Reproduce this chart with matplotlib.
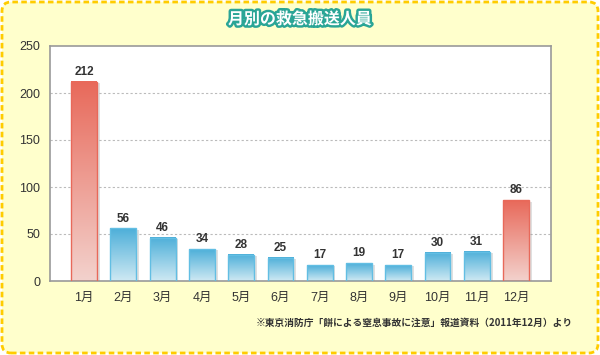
import numpy as np
import matplotlib
matplotlib.use("Agg")
import matplotlib.pyplot as plt
from matplotlib.patches import Rectangle, FancyBboxPatch
from matplotlib.colors import LinearSegmentedColormap
import matplotlib.patheffects as pe
from matplotlib.transforms import IdentityTransform

plt.rcParams['font.family'] = ['Liberation Sans', 'Noto Sans CJK JP', 'DejaVu Sans']

months = ['1月', '2月', '3月', '4月', '5月', '6月', '7月', '8月', '9月', '10月', '11月', '12月']
values = [212, 56, 46, 34, 28, 25, 17, 19, 17, 30, 31, 86]
highlight = [True, False, False, False, False, False, False, False, False, False, False, True]
title = '月別の救急搬送人員'
source = '※東京消防庁「餅による窒息事故に注意」報道資料（2011年12月）より'
yticks = [0, 50, 100, 150, 200, 250]

W, H = 600, 355
fig = plt.figure(figsize=(W / 100, H / 100), dpi=100, facecolor='white')

# rounded dashed frame
frame = FancyBboxPatch((2, 2), W - 4, H - 4, boxstyle='round,pad=0,rounding_size=9',
                       transform=IdentityTransform(), facecolor='#FFFFCC',
                       edgecolor='#FFCC00', linewidth=2, linestyle=(0, (2, 1.2)), zorder=-5)
fig.patches.append(frame)

ax = fig.add_axes([50 / W, 74 / H, 501 / W, 235 / H])
ax.set_zorder(1)
ax.set_facecolor('white')

blue = LinearSegmentedColormap.from_list('b', ['#CFE9F3', '#4DAFD9'])
red = LinearSegmentedColormap.from_list('r', ['#F3D2CD', '#E8695A'])
grad = np.linspace(0, 1, 256).reshape(-1, 1)
bw = 0.66
for i, (v, hl) in enumerate(zip(values, highlight)):
    x0 = i - bw / 2
    sh = Rectangle((x0, 0), bw, v, facecolor='none', edgecolor='none', zorder=1,
                   path_effects=[pe.SimplePatchShadow(offset=(2, -1), shadow_rgbFace='#999999', alpha=0.3)])
    ax.add_patch(sh)
    cmap = red if hl else blue
    ax.imshow(grad, aspect='auto', cmap=cmap, origin='lower',
              extent=(x0, x0 + bw, 0, v), zorder=2, vmin=0, vmax=1,
              interpolation='bilinear')
    ax.add_patch(Rectangle((x0, 0), bw, v, facecolor='none',
                           edgecolor='#E8695A' if hl else '#62BEE3', linewidth=1.0, zorder=3))
    ax.text(i, v + 4, str(v), ha='center', va='bottom', fontsize=8.5, fontweight='bold',
            color='#333333', zorder=4)

ax.set_xlim(-0.87, 11.89)
ax.set_ylim(0, 250)
ax.set_yticks(yticks)
ax.set_xticks(range(len(months)))
ax.set_xticklabels(months)
ax.tick_params(axis='both', length=0, labelsize=9, colors='#333333')
ax.tick_params(axis='y', pad=7)
ax.tick_params(axis='x', pad=8)
for y in yticks[1:-1]:
    ax.axhline(y, color='#BBBBBB', linewidth=0.8, linestyle=(0, (2, 2)), zorder=0.5)
for s in ax.spines.values():
    s.set_color('#999999')
    s.set_linewidth(1.2)

fig.text(0.5, 1 - 19 / H, title, ha='center', va='center', fontsize=11.5, fontweight='bold',
         color='white', family=['Noto Sans CJK JP'],
         path_effects=[pe.withStroke(linewidth=3.5, foreground='#2AA596')])
fig.text(573 / W, 1 - 323 / H, source, ha='right', va='center', fontsize=7, fontweight='bold',
         color='#333333', family=['Noto Sans CJK JP'])

fig.savefig('out.png', dpi=100, facecolor='white')
